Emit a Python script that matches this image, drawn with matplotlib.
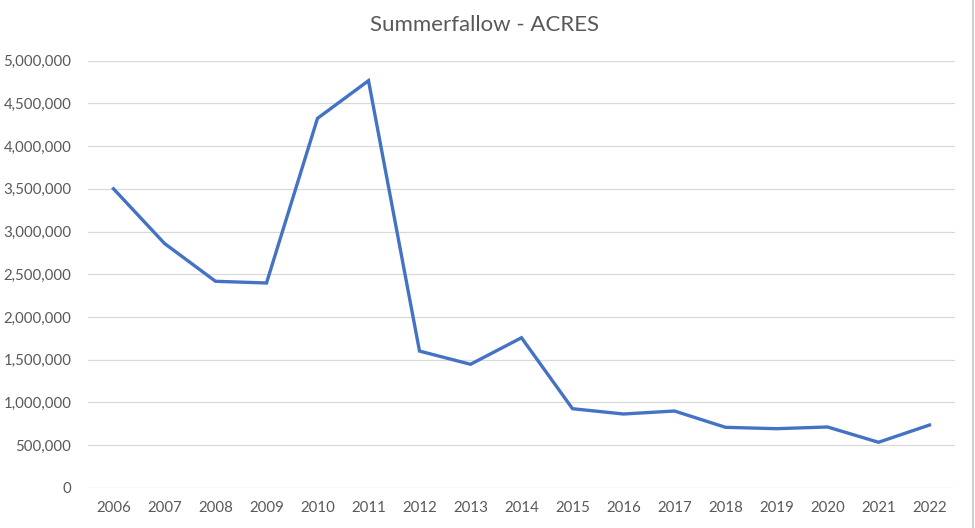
import matplotlib.pyplot as plt
from matplotlib.ticker import FuncFormatter
from matplotlib.lines import Line2D

# Dados do gráfico
anos = ["2006", "2007", "2008", "2009", "2010", "2011", "2012", "2013", "2014",
        "2015", "2016", "2017", "2018", "2019", "2020", "2021", "2022"]
acres = [3500000, 2860000, 2417000, 2397000, 4325000, 4766000, 1600000,
         1445000, 1756000, 925000, 863000, 898000, 707000, 691000, 711000,
         532000, 734000]
marcas_y = [0, 500000, 1000000, 1500000, 2000000, 2500000, 3000000,
            3500000, 4000000, 4500000, 5000000]
titulo = "Summerfallow - ACRES"

plt.rcParams["font.family"] = ["Lato", "DejaVu Sans"]

fig = plt.figure(figsize=(9.75, 5.28), dpi=100)
ax = fig.add_axes([88 / 975, 40.3 / 528, 867 / 975, 427 / 528])

posicoes = list(range(len(anos)))
ax.plot(posicoes, acres, color="#4472C4", linewidth=2.4,
        solid_joinstyle="miter", zorder=3)

ax.set_xlim(-0.5, len(anos) - 0.5)
ax.set_ylim(0, 5000000)
ax.set_xticks(posicoes)
ax.set_xticklabels(anos)
ax.set_yticks(marcas_y)
ax.yaxis.set_major_formatter(FuncFormatter(lambda v, p: f"{int(v):,}"))

ax.grid(axis="y", color="#D9D9D9", linewidth=0.9)
ax.set_axisbelow(True)
for lado in ax.spines.values():
    lado.set_visible(False)

ax.tick_params(axis="both", length=0, labelsize=10.8, labelcolor="#595959")
ax.tick_params(axis="y", pad=12)
ax.tick_params(axis="x", pad=9.5)

fig.text(0.497, 0.952, titulo, ha="center", va="center",
         fontsize=16, color="#595959")

# Borda do lado direito
fig.add_artist(Line2D([0.9975, 0.9975], [0, 1], transform=fig.transFigure,
                      color="#D0D0D0", linewidth=1.5))

fig.savefig("out.png", dpi=100)
